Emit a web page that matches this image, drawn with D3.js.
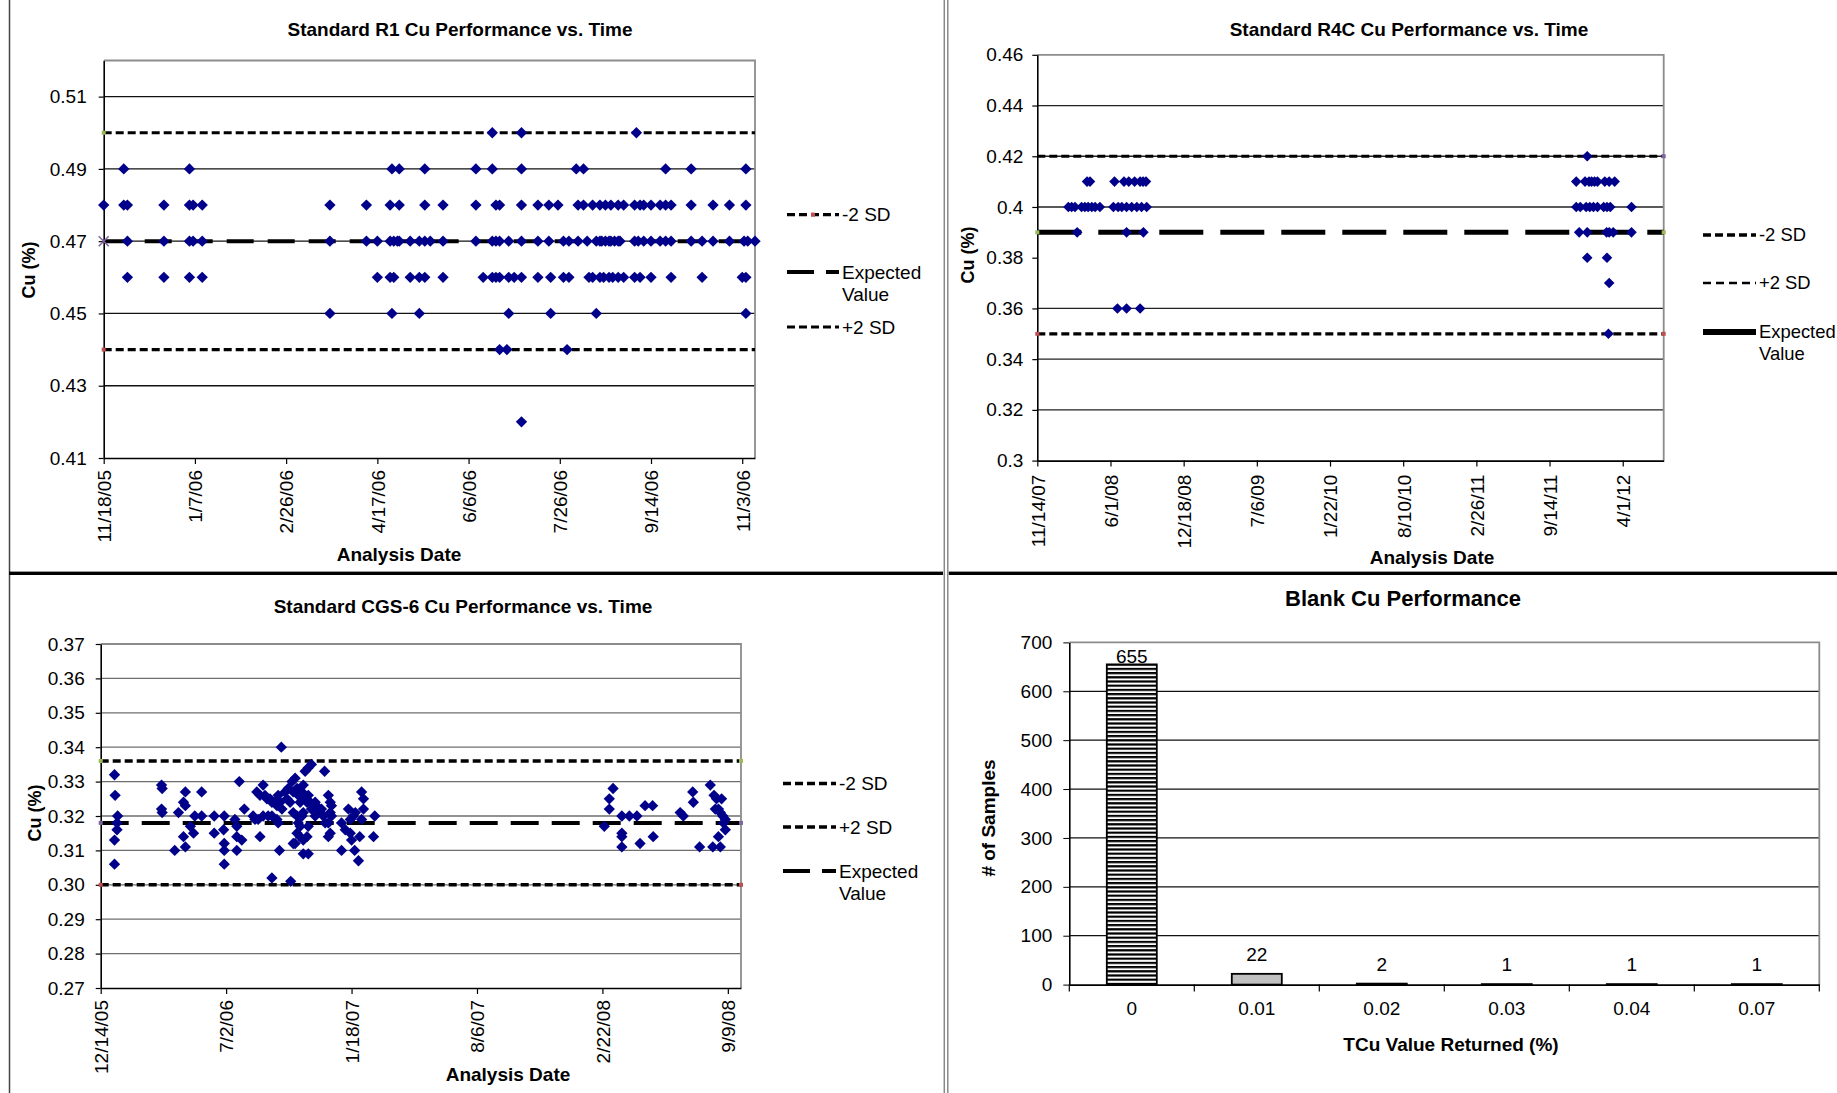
<!DOCTYPE html>
<html><head><meta charset="utf-8">
<script src="https://cdn.jsdelivr.net/npm/d3@7"></script>
<style>
body{margin:0;background:#fff}
svg{display:block}
text{font-family:"Liberation Sans",Arial,sans-serif;fill:#000}
</style>
</head><body>
<svg id="c" width="1837" height="1093"></svg>
<script>
// ---------------- DATA ----------------
// Panel 1: Standard R1
const r1TickLabels = ["11/18/05","1/7/06","2/26/06","4/17/06","6/6/06","7/26/06","9/14/06","11/3/06"];
const r1YTicks = [0.41,0.43,0.45,0.47,0.49,0.51];
const r1Refs = [0.50, 0.47, 0.44];          // -2 SD line, expected, +2 SD line
const r1Legend = ["-2 SD","Expected Value","+2 SD"];
const r1Values = [0.50,0.49,0.48,0.47,0.46,0.45,0.44,0.42];
// days after 11/18/05 for each value level
const r1Days = [
  [213,229,292],
  [11,47,158,162,176,204,213,229,259,263,308,322,352],
  [0,11,13,33,47,49,54,124,144,157,162,176,186,204,215,217,229,238,244,249,260,263,268,272,275,278,282,285,291,294,296,300,305,308,311,322,334,343,352],
  [13,33,47,49,54,124,144,150,157,159,161,162,168,173,176,179,186,204,213,215,217,222,229,238,244,252,255,260,265,270,272,273,275,277,278,280,282,283,291,293,296,300,305,308,311,322,328,334,343,351,353,357],
  [13,33,47,54,150,157,159,168,173,176,186,208,213,215,217,222,225,229,238,245,252,255,266,268,272,274,277,279,282,285,291,294,300,311,328,350,352],
  [124,158,173,222,245,270,352],
  [217,221,254],
  [229]
];

// Panel 2: Standard R4C
const r4cTickLabels = ["11/14/07","6/1/08","12/18/08","7/6/09","1/22/10","8/10/10","2/26/11","9/14/11","4/1/12"];
const r4cYTicks = [0.30,0.32,0.34,0.36,0.38,0.40,0.42,0.44,0.46];
const r4cRefs = [0.42, 0.35, 0.39];
const r4cLegend = ["-2 SD","+2 SD","Expected Value"];
const r4cValues = [0.42,0.41,0.40,0.39,0.38,0.37,0.36,0.35];
const r4cDays = [
  [1503],
  [136,144,211,237,250,266,281,289,297,1473,1497,1508,1515,1523,1531,1551,1563,1578],
  [85,94,103,121,130,139,149,158,171,208,221,231,244,258,272,285,299,1473,1484,1500,1510,1520,1531,1548,1557,1566,1624],
  [109,244,290,1481,1503,1556,1563,1574,1624],
  [1503,1557],
  [1563],
  [219,244,281],
  [1561]
];

// Panel 3: Standard CGS-6  [days after 12/14/05, Cu %]
const cgsTickLabels = ["12/14/05","7/2/06","1/18/07","8/6/07","2/22/08","9/9/08"];
const cgsYTicks = [0.27,0.28,0.29,0.30,0.31,0.32,0.33,0.34,0.35,0.36,0.37];
const cgsRefs = [0.336, 0.300, 0.318];
const cgsLegend = ["-2 SD","+2 SD","Expected Value"];
const cgsPoints = [
 [22,0.332],[23,0.326],[27,0.320],[26,0.318],[26,0.316],[22,0.313],[22,0.306],
 [97,0.329],[98,0.328],[97,0.322],[98,0.321],
 [124,0.321],[135,0.327],[132,0.324],[135,0.323],[132,0.314],[118,0.310],[135,0.311],
 [143,0.317],[148,0.315],[161,0.327],[150,0.320],[161,0.320],
 [181,0.320],[181,0.315],[197,0.320],[196,0.316],[197,0.312],[197,0.310],[197,0.306],
 [214,0.319],[217,0.317],[217,0.314],[217,0.310],[221,0.330],
 [288,0.340],[229,0.322],[243,0.320],[254,0.314],[225,0.313],[273,0.302],[303,0.301],[285,0.310],[307,0.312],
 [326,0.333],[331,0.334],[336,0.335],[357,0.333],[323,0.309],[331,0.309],[384,0.310],[405,0.310],[411,0.307],
 [416,0.327],[419,0.325],[413,0.314],[435,0.314],
 [249,0.327],[254,0.326],[259,0.329],[262,0.326],[265,0.325],[270,0.325],[273,0.324],[278,0.324],[281,0.323],
 [283,0.326],[286,0.324],[289,0.322],[294,0.327],[297,0.325],[299,0.328],[302,0.324],[305,0.330],[307,0.327],
 [310,0.331],[313,0.328],[315,0.326],[318,0.324],[321,0.327],[323,0.329],[326,0.325],[329,0.324],[331,0.326],
 [334,0.324],[336,0.322],[342,0.324],[344,0.323],[347,0.322],[350,0.321],[352,0.322],[363,0.326],[366,0.324],
 [368,0.323],[366,0.321],[368,0.320],[363,0.318],
 [246,0.319],[251,0.319],[259,0.320],[267,0.320],[273,0.320],[281,0.319],[283,0.318],[307,0.321],[313,0.320],
 [315,0.318],[321,0.320],[323,0.321],[318,0.317],[313,0.315],[318,0.314],[323,0.313],[329,0.314],[310,0.312],
 [331,0.317],[342,0.320],[355,0.320],[358,0.318],[366,0.315],[363,0.314],[384,0.318],[390,0.316],[398,0.315],
 [400,0.313],[403,0.320],[395,0.322],[406,0.321],[398,0.319],[419,0.322],[416,0.319],[437,0.320],
 [803,0.317],[817,0.328],[811,0.325],[811,0.322],[831,0.320],[843,0.320],[855,0.320],[831,0.315],[831,0.314],
 [831,0.311],[860,0.312],[868,0.323],[880,0.323],[881,0.314],[924,0.321],[929,0.320],[944,0.327],[945,0.324],
 [955,0.311],[972,0.329],[978,0.326],[982,0.325],[990,0.325],[980,0.322],[985,0.322],[988,0.321],[992,0.320],
 [996,0.319],[993,0.318],[996,0.316],[985,0.314],[976,0.311],[988,0.311]
];

// Panel 4: Blank Cu
const blankCats = ["0","0.01","0.02","0.03","0.04","0.07"];
const blankCounts = [655,22,2,1,1,1];
const blankYTicks = [0,100,200,300,400,500,600,700];

// ---------------- DRAWING ----------------
const svg = d3.select("#c");
svg.append("rect").attr("width",1837).attr("height",1093).attr("fill","#fff");
const parse = d3.utcParse("%m/%d/%y");
const NAVY = "#00008a";
const GREEN = "#9BBB59", RED = "#C0504D", PURPLE = "#8064A2";

const defs = svg.append("defs");
const pat = defs.append("pattern").attr("id","hstripe").attr("patternUnits","userSpaceOnUse")
  .attr("width",8).attr("height",4.2);
pat.append("rect").attr("width",8).attr("height",4.2).attr("fill","#fff");
pat.append("rect").attr("width",8).attr("height",2.2).attr("fill","#000");

function flatLevels(values, days){
  const out=[];
  values.forEach((v,i)=>days[i].forEach(d=>out.push([d,v])));
  return out;
}

function scatter(c){
  const g = svg.append("g");
  const start = parse(c.tickLabels[0]);
  const x = d3.scaleUtc().domain([start, d3.utcDay.offset(start, c.spanDays)]).range([c.left, c.right]);
  const y = d3.scaleLinear().domain(c.yDomain).range([c.bottom, c.top]);

  // gridlines
  g.append("g").selectAll("line").data(c.grid).join("line")
    .attr("x1",c.left).attr("x2",c.right)
    .attr("y1",d=>y(d)).attr("y2",d=>y(d))
    .attr("stroke",c.gridColor).attr("stroke-width",1.3);
  // frame top/right
  g.append("path").attr("d",`M${c.left},${y(c.yDomain[1])}H${c.right}V${c.bottom}`)
    .attr("fill","none").attr("stroke","#8c8c8c").attr("stroke-width",1.8);

  // y axis
  const ya = g.append("g").attr("transform",`translate(${c.left},0)`)
    .call(d3.axisLeft(y).tickValues(c.yTicks).tickFormat(c.yFormat).tickSize(5).tickPadding(c.yPad).tickSizeOuter(0));
  ya.select(".domain").attr("stroke","#000").attr("stroke-width",1.6);
  ya.selectAll(".tick line").attr("stroke","#000").attr("stroke-width",1.2);
  ya.selectAll("text").attr("font-size",19).attr("font-family",null);

  // x axis
  const tickDates = c.tickLabels.map(parse);
  const xa = g.append("g").attr("transform",`translate(0,${c.bottom})`)
    .call(d3.axisBottom(x).tickValues(tickDates).tickFormat((d,i)=>c.tickLabels[i]).tickSize(6).tickSizeOuter(0));
  xa.select(".domain").attr("stroke","#000").attr("stroke-width",1.6);
  xa.selectAll(".tick line").attr("stroke","#000").attr("stroke-width",1.2);
  xa.selectAll("text").attr("font-size",19).attr("font-family",null)
    .attr("transform","rotate(-90)").attr("text-anchor","end")
    .attr("x",-c.xPad).attr("y",0).attr("dy","0.36em");

  // reference lines
  c.refs.forEach(r=>{
    g.append("line").attr("x1",c.left).attr("x2",c.right)
      .attr("y1",y(r.v)).attr("y2",y(r.v))
      .attr("stroke","#000").attr("stroke-width",r.w).attr("stroke-dasharray",r.dash);
    (r.marks||[]).forEach(m=>{
      const mx = m.side==="l" ? c.left : c.right;
      if(m.shape==="x"){
        g.append("path").attr("d",`M${mx-5},${y(r.v)-5}L${mx+5},${y(r.v)+5}M${mx-5},${y(r.v)+5}L${mx+5},${y(r.v)-5}`)
          .attr("stroke",m.color).attr("stroke-width",1.5);
      } else {
        g.append("rect").attr("x",mx-2).attr("y",y(r.v)-2).attr("width",4).attr("height",4).attr("fill",m.color);
      }
    });
  });

  // points
  const diamond = d3.symbol(d3.symbolSquare, c.symSize)();
  g.append("g").selectAll("path").data(c.points).join("path")
    .attr("d",diamond)
    .attr("transform",d=>`translate(${x(d3.utcDay.offset(start,d[0]))},${y(d[1])}) rotate(45)`)
    .attr("fill",NAVY);

  // titles
  g.append("text").attr("x",c.titleX).attr("y",c.titleY).attr("dy","0.35em")
    .attr("text-anchor","middle").attr("font-size",19).attr("font-weight","bold").text(c.title);
  g.append("text").attr("transform",`translate(${c.yTitleX},${c.yTitleY}) rotate(-90)`).attr("dy","0.35em")
    .attr("text-anchor","middle").attr("font-size",18).attr("font-weight","bold").text("Cu (%)");
  g.append("text").attr("x",c.xTitleX).attr("y",c.xTitleY).attr("dy","0.35em")
    .attr("text-anchor","middle").attr("font-size",19).attr("font-weight","bold").text("Analysis Date");

  // legend
  c.legendItems.forEach((it,i)=>{
    const ly = c.legY[i];
    g.append("line").attr("x1",c.legX0).attr("x2",c.legX1).attr("y1",ly).attr("y2",ly)
      .attr("stroke","#000").attr("stroke-width",it.w).attr("stroke-dasharray",it.dash);
    if(it.dot) g.append("rect").attr("x",(c.legX0+c.legX1)/2-2).attr("y",ly-2).attr("width",4).attr("height",4).attr("fill",it.dot);
    const words = it.label === "Expected Value" ? ["Expected","Value"] : [it.label];
    words.forEach((w,k)=>{
      g.append("text").attr("x",c.legText).attr("y",ly + k*22).attr("dy","0.35em")
        .attr("font-size",c.legFont||19).text(w);
    });
  });
}

const SHORT = "8,4";

scatter({
  tickLabels:r1TickLabels, spanDays:357, yDomain:[0.41,0.52],
  left:103.7, right:755, top:60.5, bottom:458,
  grid:[0.43,0.45,0.47,0.49,0.51], gridColor:"#111",
  yTicks:r1YTicks, yFormat:d3.format(".2f"), yPad:12, xPad:12,
  refs:[
    {v:r1Refs[0], w:3.2, dash:SHORT, marks:[{side:"l",color:GREEN}]},
    {v:r1Refs[2], w:3.2, dash:SHORT, marks:[{side:"l",color:RED}]},
    {v:r1Refs[1], w:4, dash:"27,14", marks:[{side:"l",color:PURPLE,shape:"x"}]}
  ],
  points:flatLevels(r1Values, r1Days), symSize:64,
  title:"Standard R1 Cu Performance vs. Time", titleX:460, titleY:29.6,
  yTitleX:29, yTitleY:270, xTitleX:399, xTitleY:554,
  legX0:787, legX1:839, legText:842, legY:[214.6,272,327],
  legendItems:[
    {label:r1Legend[0], w:3.2, dash:SHORT, dot:RED},
    {label:r1Legend[1], w:4, dash:"27,12"},
    {label:r1Legend[2], w:3.2, dash:SHORT}
  ]
});

scatter({
  tickLabels:r4cTickLabels, spanDays:1712, yDomain:[0.30,0.46],
  left:1037.3, right:1663.7, top:54.8, bottom:460.6,
  grid:r4cYTicks.filter(v=>v>0.301 && v<0.459 && Math.abs(v-0.38)>0.001), gridColor:"#222",
  yTicks:r4cYTicks, yFormat:d=>String(+d.toFixed(2)), yPad:9, xPad:14,
  refs:[
    {v:r4cRefs[0], w:3.2, dash:SHORT, marks:[{side:"r",color:PURPLE}]},
    {v:r4cRefs[1], w:3.2, dash:SHORT, marks:[{side:"l",color:RED},{side:"r",color:RED}]},
    {v:r4cRefs[2], w:5, dash:"44,17", marks:[{side:"l",color:GREEN},{side:"r",color:GREEN}]}
  ],
  points:flatLevels(r4cValues, r4cDays), symSize:56,
  title:"Standard R4C Cu Performance vs. Time", titleX:1409, titleY:29.6,
  yTitleX:967.5, yTitleY:255, xTitleX:1432, xTitleY:557,
  legX0:1703, legX1:1756, legText:1759, legFont:18.4, legY:[235,283,332],
  legendItems:[
    {label:r4cLegend[0], w:3.5, dash:SHORT},
    {label:r4cLegend[1], w:2.4, dash:"8,5"},
    {label:r4cLegend[2], w:6, dash:null}
  ]
});

scatter({
  tickLabels:cgsTickLabels, spanDays:1021, yDomain:[0.27,0.37],
  left:100.7, right:741, top:644, bottom:988,
  grid:[0.28,0.29,0.30,0.31,0.32,0.33,0.34,0.35,0.36], gridColor:"#6e6e6e",
  yTicks:cgsYTicks, yFormat:d3.format(".2f"), yPad:11, xPad:12,
  refs:[
    {v:cgsRefs[0], w:3.4, dash:SHORT, marks:[{side:"l",color:GREEN},{side:"r",color:GREEN}]},
    {v:cgsRefs[1], w:3.4, dash:SHORT, marks:[{side:"l",color:RED},{side:"r",color:RED}]},
    {v:cgsRefs[2], w:4, dash:"28,13", marks:[{side:"l",color:PURPLE},{side:"r",color:PURPLE}]}
  ],
  points:cgsPoints.slice().sort((a,b)=>a[0]-b[0]), symSize:64,
  title:"Standard CGS-6 Cu Performance vs. Time", titleX:463, titleY:606.7,
  yTitleX:35, yTitleY:813, xTitleX:508, xTitleY:1074,
  legX0:783, legX1:836, legText:839, legY:[783.5,827,871],
  legendItems:[
    {label:cgsLegend[0], w:3.4, dash:SHORT},
    {label:cgsLegend[1], w:3.4, dash:SHORT},
    {label:cgsLegend[2], w:4, dash:"27,12"}
  ]
});

// ---- Panel 4: bar chart ----
(function(){
  const left=1069.3, right=1819.3, top=642.4, bottom=984.6;
  const g = svg.append("g");
  const x = d3.scaleBand().domain(blankCats).range([left,right]).paddingInner(0.6).paddingOuter(0.3);
  const y = d3.scaleLinear().domain([0,700]).range([bottom,top]);
  g.append("g").selectAll("line").data(blankYTicks.filter(v=>v>0 && v<700)).join("line")
    .attr("x1",left).attr("x2",right).attr("y1",d=>y(d)).attr("y2",d=>y(d))
    .attr("stroke","#111").attr("stroke-width",1.3);
  g.append("path").attr("d",`M${left},${y(700)}H${right}V${bottom}`)
    .attr("fill","none").attr("stroke","#8c8c8c").attr("stroke-width",1.8);
  const ya = g.append("g").attr("transform",`translate(${left},0)`)
    .call(d3.axisLeft(y).tickValues(blankYTicks).tickFormat(d3.format("d")).tickSize(6).tickPadding(11).tickSizeOuter(0));
  ya.select(".domain").attr("stroke","#000").attr("stroke-width",1.6);
  ya.selectAll("text").attr("font-size",19).attr("font-family",null);
  const xa = g.append("g").attr("transform",`translate(0,${bottom})`)
    .call(d3.axisBottom(x).tickSize(0).tickPadding(17).tickSizeOuter(0));
  xa.select(".domain").attr("stroke","#000").attr("stroke-width",1.6);
  xa.selectAll("text").attr("font-size",19).attr("font-family",null);
  // category boundary ticks
  const step = x.step();
  const bounds = blankCats.map(c=>x(c) - step*x.paddingOuter()).concat([right]);
  g.append("g").selectAll("line").data(bounds).join("line")
    .attr("x1",d=>d).attr("x2",d=>d).attr("y1",bottom).attr("y2",bottom+7)
    .attr("stroke","#000").attr("stroke-width",1.2);
  // bars
  const fills = ["url(#hstripe)","#c0c0c0","#c0c0c0","#c0c0c0","#c0c0c0","#c0c0c0"];
  g.append("g").selectAll("rect").data(blankCounts).join("rect")
    .attr("x",(d,i)=>x(blankCats[i])).attr("width",x.bandwidth())
    .attr("y",d=>y(d)).attr("height",d=>bottom-y(d))
    .attr("fill",(d,i)=>fills[i]).attr("stroke","#000").attr("stroke-width",1.8);
  g.append("g").selectAll("text").data(blankCounts).join("text")
    .attr("x",(d,i)=>x(blankCats[i])+x.bandwidth()/2)
    .attr("y",d=>Math.max(y(d)-13, top+21))
    .attr("text-anchor","middle").attr("font-size",19).text(d=>d);
  g.append("text").attr("x",1403).attr("y",598).attr("dy","0.35em").attr("text-anchor","middle")
    .attr("font-size",22).attr("font-weight","bold").text("Blank Cu Performance");
  g.append("text").attr("transform","translate(988.6,818) rotate(-90)").attr("dy","0.35em")
    .attr("text-anchor","middle").attr("font-size",19).attr("font-weight","bold").text("# of Samples");
  g.append("text").attr("x",1451).attr("y",1044).attr("dy","0.35em").attr("text-anchor","middle")
    .attr("font-size",19).attr("font-weight","bold").text("TCu Value Returned (%)");
})();

// ---- panel separators ----
svg.append("line").attr("x1",9.5).attr("x2",9.5).attr("y1",0).attr("y2",1093).attr("stroke","#444").attr("stroke-width",1.5);
svg.append("rect").attr("x",9).attr("y",571.6).attr("width",934).attr("height",3.4).attr("fill","#000");
svg.append("rect").attr("x",948.7).attr("y",571.6).attr("width",1837-948.7).attr("height",3.4).attr("fill","#000");
svg.append("line").attr("x1",944.3).attr("x2",944.3).attr("y1",0).attr("y2",1093).attr("stroke","#888").attr("stroke-width",1.5);
svg.append("line").attr("x1",947.8).attr("x2",947.8).attr("y1",0).attr("y2",1093).attr("stroke","#888").attr("stroke-width",1.5);
</script>
</body></html>
